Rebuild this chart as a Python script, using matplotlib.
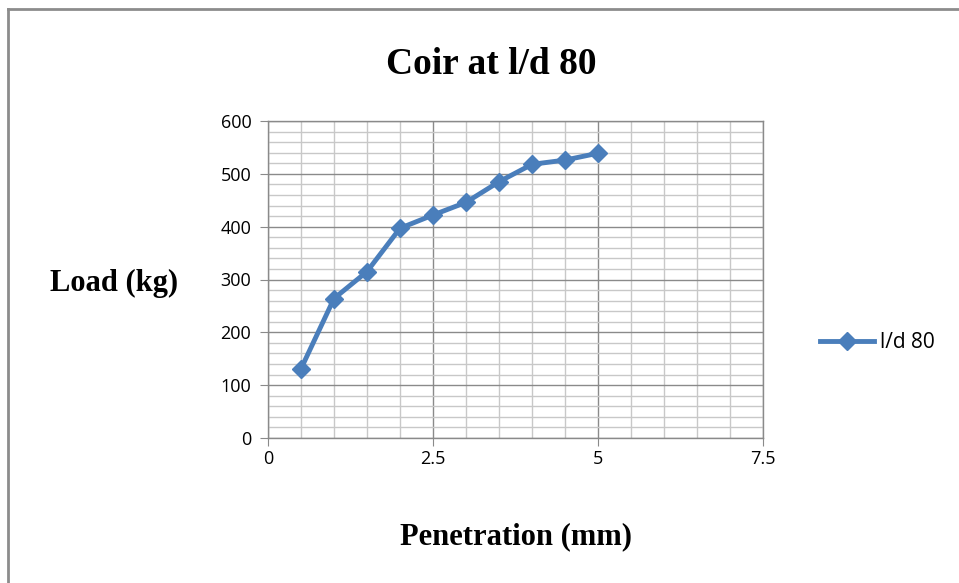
import matplotlib.pyplot as plt
from matplotlib.lines import Line2D
from matplotlib.ticker import MultipleLocator

# data
penetration = [0.5, 1.0, 1.5, 2.0, 2.5, 3.0, 3.5, 4.0, 4.5, 5.0]
load = [131, 264, 315, 397, 422, 446, 485, 518, 526, 539]
series_name = 'l/d 80'
x_ticks = [0, 2.5, 5, 7.5]
x_tick_labels = ['0', '2.5', '5', '7.5']

LINE_COLOR = '#4a7ebb'
W, H = 959, 583

fig = plt.figure(figsize=(9.59, 5.83), dpi=100)
fig.patch.set_facecolor('white')

# outer chart frame (top and left edges visible)
fig.add_artist(Line2D([8/W, 8/W], [0, 1 - 9/H], color='#8c8c8c', lw=2))
fig.add_artist(Line2D([8/W, 1], [1 - 9/H, 1 - 9/H], color='#8c8c8c', lw=2))

ax = fig.add_axes([268/W, 145/H, (763-268)/W, (438-121)/H])

ax.plot(penetration, load, color=LINE_COLOR, lw=3.5, marker='D', ms=9,
        markerfacecolor=LINE_COLOR, markeredgecolor=LINE_COLOR, label=series_name)

ax.set_xlim(0, 7.5)
ax.set_ylim(0, 600)
ax.set_xticks(x_ticks)
ax.set_xticklabels(x_tick_labels)
ax.xaxis.set_minor_locator(MultipleLocator(0.5))
ax.yaxis.set_major_locator(MultipleLocator(100))
ax.yaxis.set_minor_locator(MultipleLocator(20))

ax.grid(which='major', color='#8a8a8a', lw=1.0)
ax.grid(which='minor', color='#c8c8c8', lw=1.0)
ax.set_axisbelow(True)

for s in ax.spines.values():
    s.set_color('#8a8a8a')
    s.set_linewidth(1.0)

ax.tick_params(which='major', direction='out', length=6, color='#8a8a8a',
               labelsize=13)
ax.tick_params(axis='x', pad=3)
ax.tick_params(axis='y', pad=6)
ax.tick_params(which='minor', length=0)
for lab in ax.get_xticklabels() + ax.get_yticklabels():
    lab.set_family(['Open Sans', 'DejaVu Sans'])

fig.text(491/W, 1 - 65/H, 'Coir at l/d 80', family='Liberation Serif',
         fontsize=27, fontweight='bold', ha='center', va='center')
fig.text(516/W, 1 - 537/H, 'Penetration (mm)', family='Liberation Serif',
         fontsize=22, fontweight='bold', ha='center', va='center')
fig.text(114/W, 1 - 283/H, 'Load (kg)', family='Liberation Serif',
         fontsize=22, fontweight='bold', ha='center', va='center')

leg = ax.legend(loc='center left', bbox_to_anchor=(1.077, 0.30), frameon=False,
                prop={'family': 'Open Sans', 'size': 15}, handlelength=2.6,
                handletextpad=0.3)

fig.savefig('out.png', dpi=100)
